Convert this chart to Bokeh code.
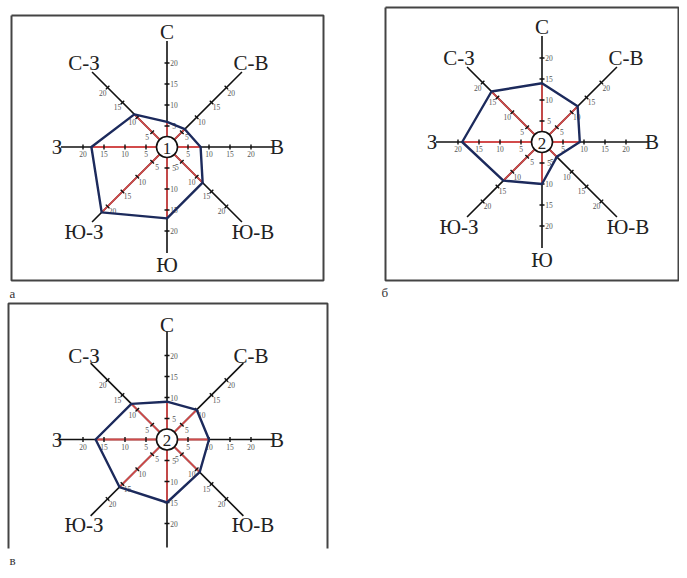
import math
from bokeh.plotting import figure
from bokeh.models import Range1d
from bokeh.embed import file_html
from bokeh.resources import INLINE
from bokeh.core.properties import value

# ---- data ----
directions = ["С", "С-В", "В", "Ю-В", "Ю", "Ю-З", "З", "С-З"]
tick_values = [5, 10, 15, 20]
tick_labels = ["5", "10", "15", "20"]
panel_a = [6, 6, 8, 12, 17, 22, 18, 11]
panel_b = [14, 12, 9, 5, 10, 13, 19, 17]
panel_v = [9, 10, 10, 11, 15, 16, 17, 12]
panel_ids = ["1", "2", "2"]
panel_letters = ["а", "б", "в"]

# ---- layout (picture pixel coordinates) ----
W, H = 679, 570
p = figure(width=W, height=H, output_backend="svg", toolbar_location=None,
           x_range=Range1d(0, W), y_range=Range1d(H, 0),
           min_border=0)
p.axis.visible = False
p.grid.visible = False
p.outline_line_color = None
p.background_fill_color = "white"

SERIF = value("Liberation Serif")
SCALE = 4.2          # px per unit
AXLEN = 106
R_CIRC = 10

dirs = [(0, -1), (0.7071, -0.7071), (1, 0), (0.7071, 0.7071),
        (0, 1), (-0.7071, 0.7071), (-1, 0), (-0.7071, -0.7071)]
label_side = [(1, 0), (0.7071, 0.7071), (0, 1), (-0.7071, 0.7071),
              (1, 0), (0.7071, 0.7071), (0, 1), (-0.7071, 0.7071)]
name_off = [(0, -115), (84, -84), (110, 0), (86, 85),
            (0, 118), (-83, 85), (-110, 0), (-83, -84)]

frame_col = "#444444"
red = "#d24b4b"
navy = "#1c2a5c"

# frames
p.multi_line(xs=[[11, 323, 323, 11, 11], [385, 678, 678, 385, 385], [8, 8, 327, 327]],
             ys=[[15, 15, 280, 280, 15], [7, 7, 280, 280, 7], [548, 303, 303, 548]],
             line_color=frame_col, line_width=2)
p.text(x=[9, 381, 9], y=[293, 292, 560], text=panel_letters, text_font=SERIF,
       text_font_size="13px", text_color="#333333", text_align="left",
       text_baseline="middle")

def rose(cx, cy, vals, pid, axlen=AXLEN, show_names=None):
    # axes
    ax_x0, ax_y0, ax_x1, ax_y1 = [], [], [], []
    for dx, dy in dirs:
        ax_x0.append(cx + dx * R_CIRC); ax_y0.append(cy + dy * R_CIRC)
        ax_x1.append(cx + dx * axlen); ax_y1.append(cy + dy * axlen)
    p.segment(ax_x0, ax_y0, ax_x1, ax_y1, line_color="#111111", line_width=1.6)
    # red radii
    rx1 = [cx + dx * v * SCALE for (dx, dy), v in zip(dirs, vals)]
    ry1 = [cy + dy * v * SCALE for (dx, dy), v in zip(dirs, vals)]
    p.segment(ax_x0, ax_y0, rx1, ry1, line_color=red, line_width=1.8)
    # ticks and tick labels
    tx0, ty0, tx1, ty1, lx, ly, lt = [], [], [], [], [], [], []
    for (dx, dy), (sx, sy) in zip(dirs, label_side):
        px_, py_ = -dy, dx
        for tv, tl in zip(tick_values, tick_labels):
            x = cx + dx * tv * SCALE
            y = cy + dy * tv * SCALE
            tx0.append(x - px_ * 2.5); ty0.append(y - py_ * 2.5)
            tx1.append(x + px_ * 2.5); ty1.append(y + py_ * 2.5)
            lx.append(x + sx * 7); ly.append(y + sy * 7)
            lt.append(tl)
    p.segment(tx0, ty0, tx1, ty1, line_color="#111111", line_width=1.4)
    p.text(x=lx, y=ly, text=lt, text_font=SERIF, text_font_size="7.5px",
           text_color="#555555", text_align="center", text_baseline="middle")
    # polygon
    p.line(rx1 + [rx1[0]], ry1 + [ry1[0]], line_color=navy, line_width=2.4,
           line_join="round")
    # center circle
    p.scatter([cx], [cy], size=2 * R_CIRC + 1, marker="circle",
              fill_color="white", line_color="#111111", line_width=1.6)
    p.text(x=[cx], y=[cy + 1], text=[pid], text_font=SERIF, text_font_size="17px",
           text_color="#222222", text_align="center", text_baseline="middle")
    # direction names
    idx = range(len(directions)) if show_names is None else show_names
    p.text(x=[cx + name_off[i][0] for i in idx], y=[cy + name_off[i][1] for i in idx],
           text=[directions[i] for i in idx], text_font=SERIF, text_font_size="21px",
           text_color="#222222", text_align="center", text_baseline="middle")

rose(166.5, 146.5, panel_a, panel_ids[0])
rose(541.5, 141.5, panel_b, panel_ids[1])
# bottom panel is cut off below: its southern label is not visible
rose(166.5, 439.0, panel_v, panel_ids[2], axlen=108, show_names=[0, 1, 2, 3, 5, 6, 7])

open("out.html", "w").write(file_html(p, INLINE))
